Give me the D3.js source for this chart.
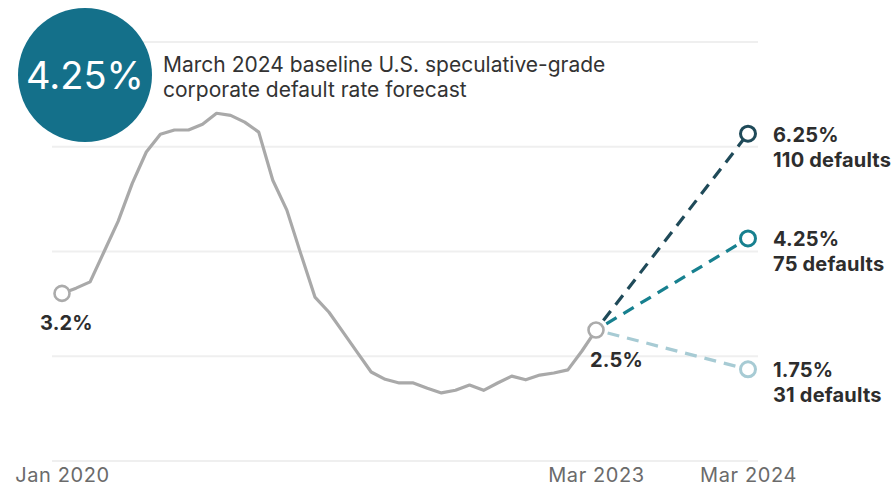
<!DOCTYPE html>
<html>
<head>
<meta charset="utf-8">
<script src="https://cdn.jsdelivr.net/npm/d3@7"></script>
<style>
  html, body { margin: 0; padding: 0; background: #ffffff; }
  svg { display: block; font-family: Inter, "Open Sans", sans-serif; }
</style>
</head>
<body>
<svg id="chart" width="896" height="494"></svg>
<script>
// Trailing-12-month U.S. speculative-grade default rate, Jan 2020 – Mar 2023 (monthly, %)
const historyMonths = d3.range(0, 39); // months since Jan 2020
const historyRates = [
  3.2, 3.3, 3.42, 4.0, 4.58, 5.3, 5.9, 6.24, 6.32, 6.32,
  6.43, 6.64, 6.6, 6.47, 6.28, 5.36, 4.79, 3.95, 3.13, 2.84,
  2.46, 2.08, 1.7, 1.56, 1.49, 1.49, 1.39, 1.3, 1.35, 1.45,
  1.35, 1.49, 1.62, 1.55, 1.64, 1.68, 1.74, 2.1, 2.5
];

// Scenario forecasts for March 2024
const scenarioNames = ["pessimistic", "baseline", "optimistic"];
const scenarioRates = [6.25, 4.25, 1.75];
const scenarioDefaults = [110, 75, 31];
const scenarioColors = ["#1f4a59", "#17808f", "#a7cbd4"];

const forecastMonth = 50;           // Mar 2024
const baselineRate = 4.25;

const tickMonths = [0, 38, 50];
const tickLabels = ["Jan 2020", "Mar 2023", "Mar 2024"];
const gridValues = [0, 2, 4, 6, 8];

const svg = d3.select("#chart");

// The forecast year is drawn slightly compressed relative to the history
const x = d3.scaleLinear().domain([0, 38, 50]).range([62, 596, 748]);
const y = d3.scaleLinear().domain([0, 8]).range([461, 42]);

const labelFont = { size: 20, spacing: 0.2 };

// Gridlines
svg.append("g")
  .selectAll("line")
  .data(gridValues)
  .join("line")
  .attr("x1", 52).attr("x2", 758)
  .attr("y1", d => y(d)).attr("y2", d => y(d))
  .attr("stroke", "#efefef")
  .attr("stroke-width", 2);

// X-axis labels
const xAxis = d3.axisBottom(x)
  .tickValues(tickMonths)
  .tickFormat((d, i) => tickLabels[i])
  .tickSize(0)
  .tickPadding(0);
const gx = svg.append("g").attr("transform", "translate(0,468)").call(xAxis);
gx.select(".domain").remove();
gx.selectAll("text")
  .attr("font-family", "Inter, 'Open Sans', sans-serif")
  .attr("font-size", 20)
  .attr("letter-spacing", 0.6)
  .attr("fill", "#6b6b6b")
  .attr("dy", "0.72em");

// Historical line
const line = d3.line()
  .x((d, i) => x(historyMonths[i]))
  .y(d => y(d));
svg.append("path")
  .datum(historyRates)
  .attr("d", line)
  .attr("fill", "none")
  .attr("stroke", "#a9a9a9")
  .attr("stroke-width", 3.2)
  .attr("stroke-linejoin", "round");

// Scenario dashed lines
const lastMonth = historyMonths[historyMonths.length - 1];
const lastRate = historyRates[historyRates.length - 1];
svg.append("g")
  .selectAll("line")
  .data(scenarioRates)
  .join("line")
  .attr("x1", x(lastMonth)).attr("y1", y(lastRate))
  .attr("x2", x(forecastMonth)).attr("y2", d => y(d))
  .attr("stroke", (d, i) => scenarioColors[i])
  .attr("stroke-width", 3.2)
  .attr("stroke-dasharray", "12 8")
  .attr("stroke-dashoffset", -12);

// Endpoint markers of the history
const firstRate = historyRates[0];
svg.append("g")
  .selectAll("circle")
  .data([[historyMonths[0], firstRate], [lastMonth, lastRate]])
  .join("circle")
  .attr("cx", d => x(d[0])).attr("cy", d => y(d[1]))
  .attr("r", 7.5)
  .attr("fill", "#ffffff")
  .attr("stroke", "#ababab")
  .attr("stroke-width", 2.6);

svg.append("text")
  .attr("x", x(historyMonths[0]) - 22).attr("y", y(firstRate) + 37)
  .attr("font-size", labelFont.size).attr("letter-spacing", labelFont.spacing)
  .attr("font-weight", 700).attr("fill", "#2d2d2d")
  .text(d3.format(".1f")(firstRate) + "%");

svg.append("text")
  .attr("x", x(lastMonth) - 6).attr("y", y(lastRate) + 37)
  .attr("font-size", labelFont.size).attr("letter-spacing", labelFont.spacing)
  .attr("font-weight", 700).attr("fill", "#2d2d2d")
  .text(d3.format(".1f")(lastRate) + "%");

// Scenario markers and labels
const scen = svg.append("g")
  .selectAll("g")
  .data(scenarioRates)
  .join("g")
  .attr("transform", d => `translate(${x(forecastMonth)},${y(d)})`);

scen.append("circle")
  .attr("r", 7.5)
  .attr("fill", "#ffffff")
  .attr("stroke", (d, i) => scenarioColors[i])
  .attr("stroke-width", 3);

scen.append("text")
  .attr("x", 25).attr("y", 8)
  .attr("font-size", labelFont.size).attr("letter-spacing", labelFont.spacing)
  .attr("font-weight", 700).attr("fill", "#2d2d2d")
  .text(d => d + "%");

scen.append("text")
  .attr("x", 25).attr("y", 33)
  .attr("font-size", labelFont.size).attr("letter-spacing", labelFont.spacing)
  .attr("font-weight", 700).attr("fill", "#2d2d2d")
  .text((d, i) => scenarioDefaults[i] + " defaults");

// Headline badge
svg.append("circle")
  .attr("cx", 85).attr("cy", 75).attr("r", 67)
  .attr("fill", "#14708a");

svg.append("text")
  .attr("x", 85).attr("y", 89)
  .attr("text-anchor", "middle")
  .attr("font-size", 38).attr("fill", "#ffffff")
  .text(baselineRate + "%");

const title = svg.append("text")
  .attr("x", 163).attr("y", 72)
  .attr("font-size", 21).attr("fill", "#333333");
title.append("tspan").attr("x", 163).attr("y", 72)
  .text("March 2024 baseline U.S. speculative-grade");
title.append("tspan").attr("x", 163).attr("y", 97)
  .text("corporate default rate forecast");
</script>
</body>
</html>
